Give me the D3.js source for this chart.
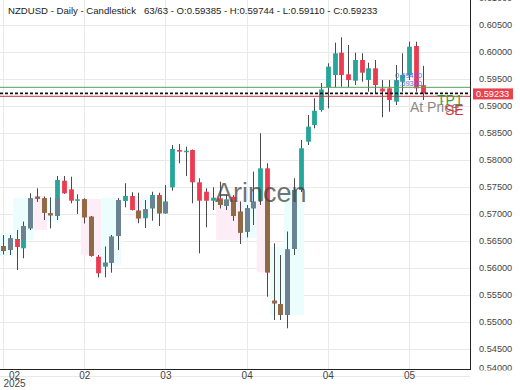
<!DOCTYPE html>
<html>
<head>
<meta charset="utf-8">
<script src="https://cdn.jsdelivr.net/npm/d3@7"></script>
<style>
body { margin: 0; background: #fff; }
text { font-family: "Liberation Sans", Arial, sans-serif; }
</style>
</head>
<body>
<svg id="chart" width="520" height="390"></svg>
<script>
// NZDUSD daily, 63 candles
var opens = [0.56407, 0.56333, 0.56537, 0.56365, 0.56735, 0.57320, 0.57291, 0.57013, 0.56963, 0.57617,
    0.57457, 0.57246, 0.57272, 0.56950, 0.56209, 0.56024, 0.56098, 0.56593, 0.57241, 0.57333,
    0.57061, 0.56920, 0.57106, 0.57352, 0.57013, 0.57494, 0.58185, 0.58148, 0.58185, 0.57587,
    0.57413, 0.57246, 0.57291, 0.57148, 0.57320, 0.57043, 0.56672, 0.57106, 0.57246, 0.57846,
    0.55394, 0.55333, 0.55130, 0.56352, 0.57444, 0.58339, 0.58648, 0.58926, 0.59346, 0.59574,
    0.59987, 0.59587, 0.59469, 0.59852, 0.59481, 0.59698, 0.59324, 0.59328, 0.59080, 0.59450,
    0.59574, 0.60111, 0.59385]
var highs = [0.56611, 0.56611, 0.56704, 0.56857, 0.57383, 0.57476, 0.57320, 0.57309, 0.57704, 0.57704,
    0.57691, 0.57365, 0.57291, 0.56963, 0.56241, 0.56394, 0.56611, 0.57291, 0.57569, 0.57402,
    0.57394, 0.57259, 0.57413, 0.57394, 0.57537, 0.58278, 0.58296, 0.58246, 0.58194, 0.57661,
    0.57476, 0.57494, 0.57598, 0.57352, 0.57352, 0.57228, 0.57167, 0.57783, 0.58494, 0.57939,
    0.56457, 0.56241, 0.56672, 0.57661, 0.58370, 0.58833, 0.59143, 0.59426, 0.59791, 0.60172,
    0.60272, 0.60130, 0.59987, 0.59976, 0.59802, 0.59852, 0.59481, 0.59481, 0.59759, 0.59976,
    0.60191, 0.60191, 0.59744]
var lows = [0.56254, 0.56241, 0.55963, 0.56180, 0.56704, 0.57228, 0.56889, 0.56735, 0.56889, 0.57370,
    0.57198, 0.57000, 0.56828, 0.56209, 0.55828, 0.55828, 0.55913, 0.56333, 0.57124, 0.57065,
    0.56828, 0.56741, 0.56876, 0.56778, 0.57009, 0.57432, 0.57939, 0.57704, 0.57198, 0.56272,
    0.56754, 0.57074, 0.57106, 0.57074, 0.56876, 0.56444, 0.56569, 0.56796, 0.57167, 0.55469,
    0.55037, 0.55037, 0.54883, 0.56241, 0.57407, 0.58278, 0.58587, 0.58894, 0.58957, 0.59346,
    0.59357, 0.59346, 0.59389, 0.59450, 0.59265, 0.59235, 0.58791, 0.58894, 0.59019, 0.59265,
    0.59481, 0.59265, 0.59110]
var closes = [0.56315, 0.56550, 0.56389, 0.56778, 0.57291, 0.57283, 0.57024, 0.56976, 0.57630, 0.57383,
    0.57246, 0.57272, 0.56939, 0.56222, 0.55902, 0.56098, 0.56580, 0.57259, 0.57333, 0.57074,
    0.56920, 0.57087, 0.57352, 0.57013, 0.57228, 0.58204, 0.58154, 0.58172, 0.57587, 0.57246,
    0.57246, 0.57302, 0.57167, 0.57272, 0.56963, 0.56654, 0.57106, 0.57228, 0.57846, 0.55913,
    0.55346, 0.55130, 0.56343, 0.57444, 0.58217, 0.58617, 0.58913, 0.59306, 0.59728, 0.59976,
    0.59574, 0.59481, 0.59852, 0.59617, 0.59698, 0.59389, 0.59269, 0.59111, 0.59481, 0.59574,
    0.60098, 0.59328, 0.59233]

// pattern boxes: candle range + price range, bull / bear
var patStart = [0, 2, 5, 7, 12, 15, 20, 21, 32, 36, 38, 40, 42]
var patEnd = [1, 4, 6, 8, 14, 17, 20, 24, 35, 37, 39, 44, 44]
var patTop = [0.56648, 0.57296, 0.57333, 0.57296, 0.57278, 0.57296, 0.57259, 0.57315, 0.57259, 0.57259, 0.57259, 0.56389, 0.57444]
var patBottom = [0.56222, 0.56519, 0.56704, 0.56852, 0.56241, 0.56056, 0.56852, 0.56981, 0.56519, 0.56556, 0.55926, 0.55130, 0.56333]
var patKind = ["bull", "bull", "bear", "bull", "bear", "bull", "bear", "bull", "bear", "bull", "bear", "bull", "bull"]

// x axis ticks (candle index) and labels
var tickIndex = [0, 12, 24, 36, 48, 60]
var tickLabels = ["02", "02", "03", "04", "04", "05"]
var yTicks = [0.610, 0.605, 0.600, 0.595, 0.590, 0.585, 0.580, 0.575, 0.570, 0.565, 0.560, 0.555, 0.550, 0.545, 0.540]

// trade levels
var levelNames = ["TP1", "At Price", "SE"]
var levelValues = [0.59346, 0.59233, 0.59180]
var zoneLabels = ["0.59490", "0.59350"]
var zoneValues = [0.59520, 0.59370]

var header = "NZDUSD - Daily - Candlestick"
var ohlcText = "63/63 - O:0.59385 - H:0.59744 - L:0.59110 - C:0.59233"

var svg = d3.select("#chart")
var plotRight = 470
var plotBottom = 369

var x = d3.scaleLinear().domain([0, opens.length - 1]).range([3, 422.6])
var y = d3.scaleLinear().domain([0.545, 0.605]).range([349, 25])
var step = x(1) - x(0)
var bodyW = 4.8

var upColor = "#26a69a", downColor = "#ec3b50"
var upMuted = "#6e8192", downMuted = "#8c6c44"

var candles = opens.map(function(o, i) {
    return { i: i, o: o, h: highs[i], l: lows[i], c: closes[i] }
})
var boxes = patStart.map(function(s, k) {
    return { s: s, e: patEnd[k], top: patTop[k], bottom: patBottom[k], kind: patKind[k] }
})

var defs = svg.append("defs")
defs.append("clipPath").attr("id", "plotClip")
    .append("rect").attr("x", 0).attr("y", 0).attr("width", plotRight).attr("height", plotBottom)
defs.append("clipPath").attr("id", "axisClip")
    .append("rect").attr("x", plotRight).attr("y", 0).attr("width", 50).attr("height", 370.5)
defs.append("clipPath").attr("id", "boxClip")
    .selectAll("rect").data(boxes).enter().append("rect")
    .attr("x", function(d) { return x(d.s) - step / 2 })
    .attr("width", function(d) { return x(d.e) - x(d.s) + step })
    .attr("y", function(d) { return y(d.top) })
    .attr("height", function(d) { return y(d.bottom) - y(d.top) })

// grid
var grid = svg.append("g").attr("stroke", "#e9e9e9").attr("stroke-width", 1)
grid.selectAll(".hg").data(yTicks).enter().append("line")
    .attr("x1", 0).attr("x2", plotRight)
    .attr("y1", function(d) { return Math.round(y(d)) + 0.5 })
    .attr("y2", function(d) { return Math.round(y(d)) + 0.5 })
grid.selectAll(".vg").data(tickIndex).enter().append("line")
    .attr("y1", 0).attr("y2", plotBottom)
    .attr("x1", function(d) { return Math.round(x(d)) + 0.5 })
    .attr("x2", function(d) { return Math.round(x(d)) + 0.5 })

// header
svg.append("text").attr("x", 8).attr("y", 14).attr("font-size", 9.6).attr("fill", "#222").text(header)
svg.append("text").attr("x", 144).attr("y", 14).attr("font-size", 9.6).attr("fill", "#222").text(ohlcText)

var plot = svg.append("g").attr("clip-path", "url(#plotClip)")

// pattern boxes
plot.append("g").selectAll("rect").data(boxes).enter().append("rect")
    .attr("x", function(d) { return x(d.s) - step / 2 })
    .attr("width", function(d) { return x(d.e) - x(d.s) + step })
    .attr("y", function(d) { return y(d.top) })
    .attr("height", function(d) { return y(d.bottom) - y(d.top) })
    .attr("fill", function(d) { return d.kind == "bull" ? "#ecfdfd" : "#fdedf6" })

function drawCandles(g, up, down) {
    var c = g.selectAll("g").data(candles).enter().append("g")
    c.append("line")
        .attr("x1", function(d) { return Math.round(x(d.i)) + 0.5 })
        .attr("x2", function(d) { return Math.round(x(d.i)) + 0.5 })
        .attr("y1", function(d) { return y(d.h) })
        .attr("y2", function(d) { return y(d.l) })
        .attr("stroke", "#4a4a4a").attr("stroke-width", 1)
    c.append("rect")
        .attr("x", function(d) { return Math.round(x(d.i)) + 0.5 - bodyW / 2 })
        .attr("width", bodyW)
        .attr("y", function(d) { return y(Math.max(d.o, d.c)) })
        .attr("height", function(d) { return Math.max(1.5, Math.abs(y(d.o) - y(d.c))) })
        .attr("fill", function(d) { return d.c >= d.o ? up : down })
}
drawCandles(plot.append("g"), upColor, downColor)
drawCandles(plot.append("g").attr("clip-path", "url(#boxClip)"), upMuted, downMuted)

// watermark
plot.append("text").attr("x", 215).attr("y", 202).attr("font-size", 27)
    .attr("fill", "#444").attr("fill-opacity", 0.75).text("Arincen")

// levels
plot.append("line").attr("x1", 0).attr("x2", plotRight)
    .attr("y1", y(levelValues[0])).attr("y2", y(levelValues[0]))
    .attr("stroke", "#5aa05a").attr("stroke-width", 1)
plot.append("line").attr("x1", 0).attr("x2", plotRight)
    .attr("y1", y(levelValues[2])).attr("y2", y(levelValues[2]))
    .attr("stroke", "#c0343c").attr("stroke-width", 1)
plot.append("line").attr("x1", 0).attr("x2", plotRight)
    .attr("y1", y(closes[closes.length - 1])).attr("y2", y(closes[closes.length - 1]))
    .attr("stroke", "#111").attr("stroke-width", 1.6).attr("stroke-dasharray", "3,2")

plot.selectAll(".zl").data(zoneLabels).enter().append("text")
    .attr("x", 395).attr("y", function(d, i) { return y(zoneValues[i]) })
    .attr("font-size", 7.5).attr("fill", "#4f6fd8").text(function(d) { return d })

plot.append("text").attr("x", 410).attr("y", 112).attr("font-size", 14).attr("fill", "#8a8a8a").text(levelNames[1])
plot.append("text").attr("x", 437).attr("y", 105).attr("font-size", 14).attr("fill", "#3a9c3a").text(levelNames[0])
plot.append("text").attr("x", 445).attr("y", 115).attr("font-size", 14).attr("fill", "#d8323f").text(levelNames[2])

// right axis, clipped to the axis strip
var yAxis = d3.axisRight(y).tickValues(yTicks).tickFormat(d3.format(".5f")).tickSize(0).tickPadding(9)
var ya = svg.append("g").attr("clip-path", "url(#axisClip)")
    .append("g").attr("transform", "translate(" + plotRight + ",0)")
    .call(yAxis)
ya.select(".domain").remove()
ya.selectAll("text").attr("font-size", 9.2).attr("fill", "#444").attr("font-family", null)
// lowest label sits just above the bottom edge
ya.selectAll(".tick").filter(function(d) { return y(d) > plotBottom })
    .attr("transform", "translate(0," + (plotBottom - 1) + ")")

svg.append("line").attr("x1", plotRight + 0.5).attr("x2", plotRight + 0.5)
    .attr("y1", 0).attr("y2", plotBottom + 1).attr("stroke", "#222")

// current price tag
var lastY = y(closes[closes.length - 1])
svg.append("rect").attr("x", 473).attr("y", lastY - 5).attr("width", 40).attr("height", 11).attr("fill", "#e8424f")
svg.append("text").attr("x", 476).attr("y", lastY + 3.5).attr("font-size", 9.2).attr("fill", "#fff")
    .text(d3.format(".5f")(closes[closes.length - 1]))

// bottom axis
var xAxis = d3.axisBottom(x).tickValues(tickIndex)
    .tickFormat(function(d, i) { return tickLabels[i] }).tickSize(0).tickPadding(3)
var xa = svg.append("g").attr("transform", "translate(0," + plotBottom + ")").call(xAxis)
xa.select(".domain").remove()
xa.selectAll("text").attr("font-size", 10).attr("fill", "#444").attr("font-family", null)
xa.select(".tick text").attr("x", 11)
xa.select(".tick").append("text").attr("x", 11).attr("y", 18).attr("font-size", 10)
    .attr("fill", "#444").attr("text-anchor", "middle").text("2025")
svg.append("line").attr("x1", 0).attr("x2", plotRight + 1)
    .attr("y1", plotBottom + 0.5).attr("y2", plotBottom + 0.5).attr("stroke", "#222")
</script>
</body>
</html>
